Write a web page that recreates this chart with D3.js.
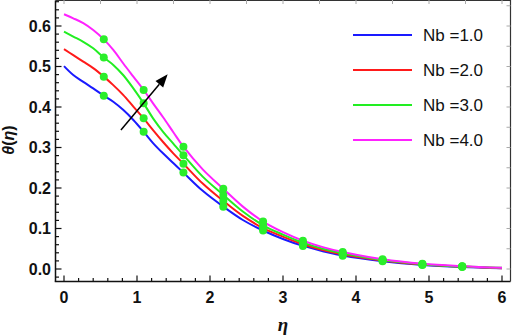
<!DOCTYPE html>
<html><head><meta charset="utf-8">
<script src="https://cdn.jsdelivr.net/npm/d3@7"></script>
<style>body{margin:0;background:#fff}svg{display:block}</style>
</head><body>
<svg id="c" width="512" height="336"></svg>
<script>
const eta = [0, 0.127, 0.264, 0.40, 0.545, 0.675, 0.81, 0.95, 1.091, 1.22, 1.36, 1.5, 1.636, 1.9, 2.182, 2.45, 2.727, 3.0, 3.273, 3.545, 3.818, 4.364, 4.909, 5.455, 6.0];
const nb1 = [0.501, 0.479, 0.462, 0.446, 0.428, 0.413, 0.393, 0.368, 0.339, 0.311, 0.285, 0.261, 0.238, 0.193, 0.154, 0.121, 0.095, 0.074, 0.057, 0.044, 0.033, 0.019, 0.010, 0.005, 0.002];
const nb2 = [0.543, 0.528, 0.512, 0.496, 0.475, 0.454, 0.430, 0.401, 0.372, 0.343, 0.313, 0.285, 0.260, 0.211, 0.168, 0.131, 0.101, 0.080, 0.061, 0.047, 0.036, 0.021, 0.011, 0.006, 0.002];
const nb3 = [0.586, 0.574, 0.561, 0.545, 0.522, 0.504, 0.479, 0.446, 0.409, 0.372, 0.338, 0.309, 0.281, 0.228, 0.183, 0.142, 0.108, 0.085, 0.065, 0.050, 0.039, 0.022, 0.012, 0.006, 0.003];
const nb4 = [0.629, 0.619, 0.607, 0.590, 0.567, 0.541, 0.508, 0.475, 0.442, 0.409, 0.374, 0.337, 0.302, 0.246, 0.198, 0.154, 0.117, 0.091, 0.070, 0.054, 0.042, 0.024, 0.013, 0.007, 0.003];
const markerIdx = [4, 8, 12, 14, 16, 18, 20, 21, 22, 23];
const seriesNames = ["Nb =1.0", "Nb =2.0", "Nb =3.0", "Nb =4.0"];
const seriesColors = ["#1a1aff", "#ff1a1a", "#22ee22", "#ff22ff"];
const xTicks = [0, 1, 2, 3, 4, 5, 6];
const yTicks = [0.0, 0.1, 0.2, 0.3, 0.4, 0.5, 0.6];
const arrowFrom = [0.78, 0.343], arrowTo = [1.42, 0.481];

const series = [nb1, nb2, nb3, nb4];
const svg = d3.select("#c");
const L = 55.5, R = 510.5, T = 0.5, B = 281.5;
const x = d3.scaleLinear().domain([0, 6]).range([64, 502]);
const y = d3.scaleLinear().domain([0, 0.6]).range([269, 26]);

const defs = svg.append("defs");
defs.append("clipPath").attr("id","clip").append("rect").attr("x",L).attr("y",T).attr("width",R-L).attr("height",B-T);

// curves
const line = d3.line().x((d,i)=>x(eta[i])).y(d=>y(d)).curve(d3.curveCatmullRom.alpha(0.5));
const g = svg.append("g").attr("clip-path","url(#clip)");
series.forEach((s,k)=>{
  g.append("path").attr("d", line(s)).attr("fill","none").attr("stroke",seriesColors[k]).attr("stroke-width",2);
});
series.forEach((s,k)=>{
  markerIdx.forEach(i=>{
    g.append("circle").attr("cx",x(eta[i])).attr("cy",y(s[i])).attr("r",4).attr("fill","#2bee2b");
  });
});

// arrow
const ax1 = x(arrowFrom[0]), ay1 = y(arrowFrom[1]), ax2 = x(arrowTo[0]), ay2 = y(arrowTo[1]);
const ang = Math.atan2(ay2-ay1, ax2-ax1);
const hl = 13, hw = 5;
const bx = ax2 - hl*Math.cos(ang), by = ay2 - hl*Math.sin(ang);
svg.append("line").attr("x1",ax1).attr("y1",ay1).attr("x2",bx).attr("y2",by).attr("stroke","#000").attr("stroke-width",1.5);
svg.append("path").attr("d",`M${ax2},${ay2}L${bx+hw*Math.sin(ang)},${by-hw*Math.cos(ang)}L${bx-hw*Math.sin(ang)},${by+hw*Math.cos(ang)}Z`).attr("fill","#000");

// frame
const fr = svg.append("g").attr("stroke","#111").attr("stroke-width",1.5).attr("fill","none");
fr.append("line").attr("x1",L).attr("x2",L).attr("y1",T).attr("y2",B);
fr.append("line").attr("x1",L-0.75).attr("x2",R).attr("y1",B).attr("y2",B);
const fr2 = svg.append("g").attr("stroke","#333").attr("stroke-width",1.2).attr("fill","none");
fr2.append("line").attr("x1",R).attr("x2",R).attr("y1",0).attr("y2",B);
fr2.append("line").attr("x1",L).attr("x2",R).attr("y1",0.5).attr("y2",0.5);

// ticks
const tk = svg.append("g").attr("stroke","#111").attr("stroke-width",1.2);
d3.range(0, 6.001, 0.2).forEach(v=>{
  const major = Math.abs(v-Math.round(v))<1e-6;
  tk.append("line").attr("x1",x(v)).attr("x2",x(v)).attr("y1",B).attr("y2",B-(major?6:3.5));
});
d3.range(-0.02, 0.661, 0.02).forEach(v=>{
  const major = Math.abs(v*10-Math.round(v*10))<1e-6;
  if (y(v)>B || y(v)<T) return;
  tk.append("line").attr("x1",L).attr("x2",L+(major?6:3.5)).attr("y1",y(v)).attr("y2",y(v));
});
const tk2 = svg.append("g").attr("stroke","#aaa").attr("stroke-width",1);
d3.range(0, 6.001, 0.5).forEach(v=>{
  tk2.append("line").attr("x1",x(v)).attr("x2",x(v)).attr("y1",0).attr("y2",4);
});
d3.range(0, 0.651, 0.05).forEach(v=>{
  tk2.append("line").attr("x1",R).attr("x2",R-4).attr("y1",y(v)).attr("y2",y(v));
});

// tick labels
const lab = svg.append("g").attr("font-family","Liberation Sans, Arial, sans-serif").attr("font-weight","bold").attr("font-size",16).attr("fill","#111");
xTicks.forEach(v=>lab.append("text").attr("x",x(v)).attr("y",303).attr("text-anchor","middle").text(d3.format("d")(v)));
yTicks.forEach(v=>lab.append("text").attr("x",51).attr("y",y(v)+5.5).attr("text-anchor","end").text(d3.format(".1f")(v)));

// axis titles
svg.append("text").attr("x",283).attr("y",331).attr("text-anchor","middle").attr("font-family","Liberation Serif, serif").attr("font-style","italic").attr("font-weight","bold").attr("font-size",19).attr("fill","#111").text("η");
svg.append("text").attr("transform","translate(14,140) rotate(-90)").attr("text-anchor","middle").attr("font-family","Liberation Sans, Arial, sans-serif").attr("font-weight","bold").attr("font-size",16).attr("fill","#111")
  .html('<tspan font-style="italic">θ</tspan>(<tspan font-style="italic">η</tspan>)');

// legend
const lg = svg.append("g");
seriesNames.forEach((n,k)=>{
  const yy = 35 + k*35;
  lg.append("line").attr("x1",353).attr("x2",412).attr("y1",yy).attr("y2",yy).attr("stroke",seriesColors[k]).attr("stroke-width",2);
  lg.append("text").attr("x",423).attr("y",yy+6).attr("font-family","Liberation Sans, Arial, sans-serif").attr("font-size",17).attr("fill","#111").text(n);
});
</script>
</body></html>
